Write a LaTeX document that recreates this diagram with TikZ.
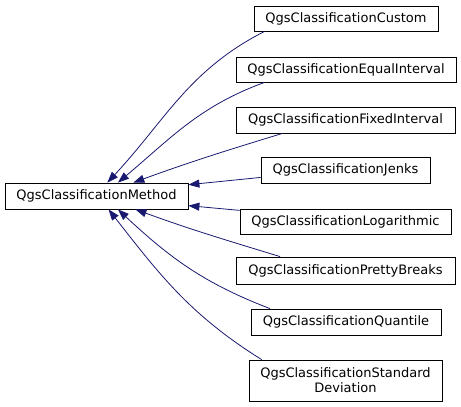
\documentclass[tikz,border=0pt]{standalone}
\usepackage{fontspec}
\setmainfont{DejaVu Sans}
\usepackage{xcolor}
\usetikzlibrary{shapes, arrows.meta, positioning}
\definecolor{midnight}{RGB}{25,25,112}

\begin{document}
\begin{tikzpicture}
  [
    x=1pt, y=1pt,
    Class/.style={rectangle, draw=black, fill=white, line width=0.8pt, inner sep=0pt, align=center, font=\fontsize{13}{15}\selectfont, minimum height=25pt},
    Inherit/.style={draw=midnight, line width=0.8pt, -{Triangle[length=11pt, width=8pt]}}
  ]
  \useasboundingbox (0,0) rectangle (461,-407);
  % Nodes
  \node[Class, minimum width=183pt, minimum height=26pt] (method) at (96.5,-196) {QgsClassificationMethod};
  \node[Class, minimum width=184pt] (custom) at (346,-18.5) {QgsClassificationCustom};
  \node[Class, minimum width=220pt] (equal) at (346,-69.5) {QgsClassificationEqualInterval};
  \node[Class, minimum width=219pt, minimum height=26pt] (fixed) at (345.5,-120) {QgsClassificationFixedInterval};
  \node[Class, minimum width=169pt, minimum height=26pt] (jenks) at (345.5,-170) {QgsClassificationJenks};
  \node[Class, minimum width=211pt] (log) at (345.5,-221.5) {QgsClassificationLogarithmic};
  \node[Class, minimum width=219pt, minimum height=27pt] (pretty) at (345.5,-270.5) {QgsClassificationPrettyBreaks};
  \node[Class, minimum width=190pt, minimum height=26pt] (quantile) at (346,-322) {QgsClassificationQuantile};
  \node[Class, minimum width=193pt, minimum height=41pt] (stddev) at (345.5,-380.5) {QgsClassificationStandard\\Deviation};

  % Lines
  \path [Inherit] (custom.189) to[out=207,in=47] (method.51);
  \path [Inherit] (equal.189) to[out=200,in=40] (method.32);
  \path [Inherit] (fixed.192) to[out=197,in=20] (method.20);
  \path [Inherit] (jenks.185) -- (method.7);
  \path [Inherit] (log.174) -- (method.-6);
  \path [Inherit] (pretty.168) to[out=163,in=-20] (method.-19);
  \path [Inherit] (quantile.170) to[out=159,in=-43] (method.-32);
  \path [Inherit] (stddev.166) to[out=148,in=-52] (method.-48);

\end{tikzpicture}
\end{document}
